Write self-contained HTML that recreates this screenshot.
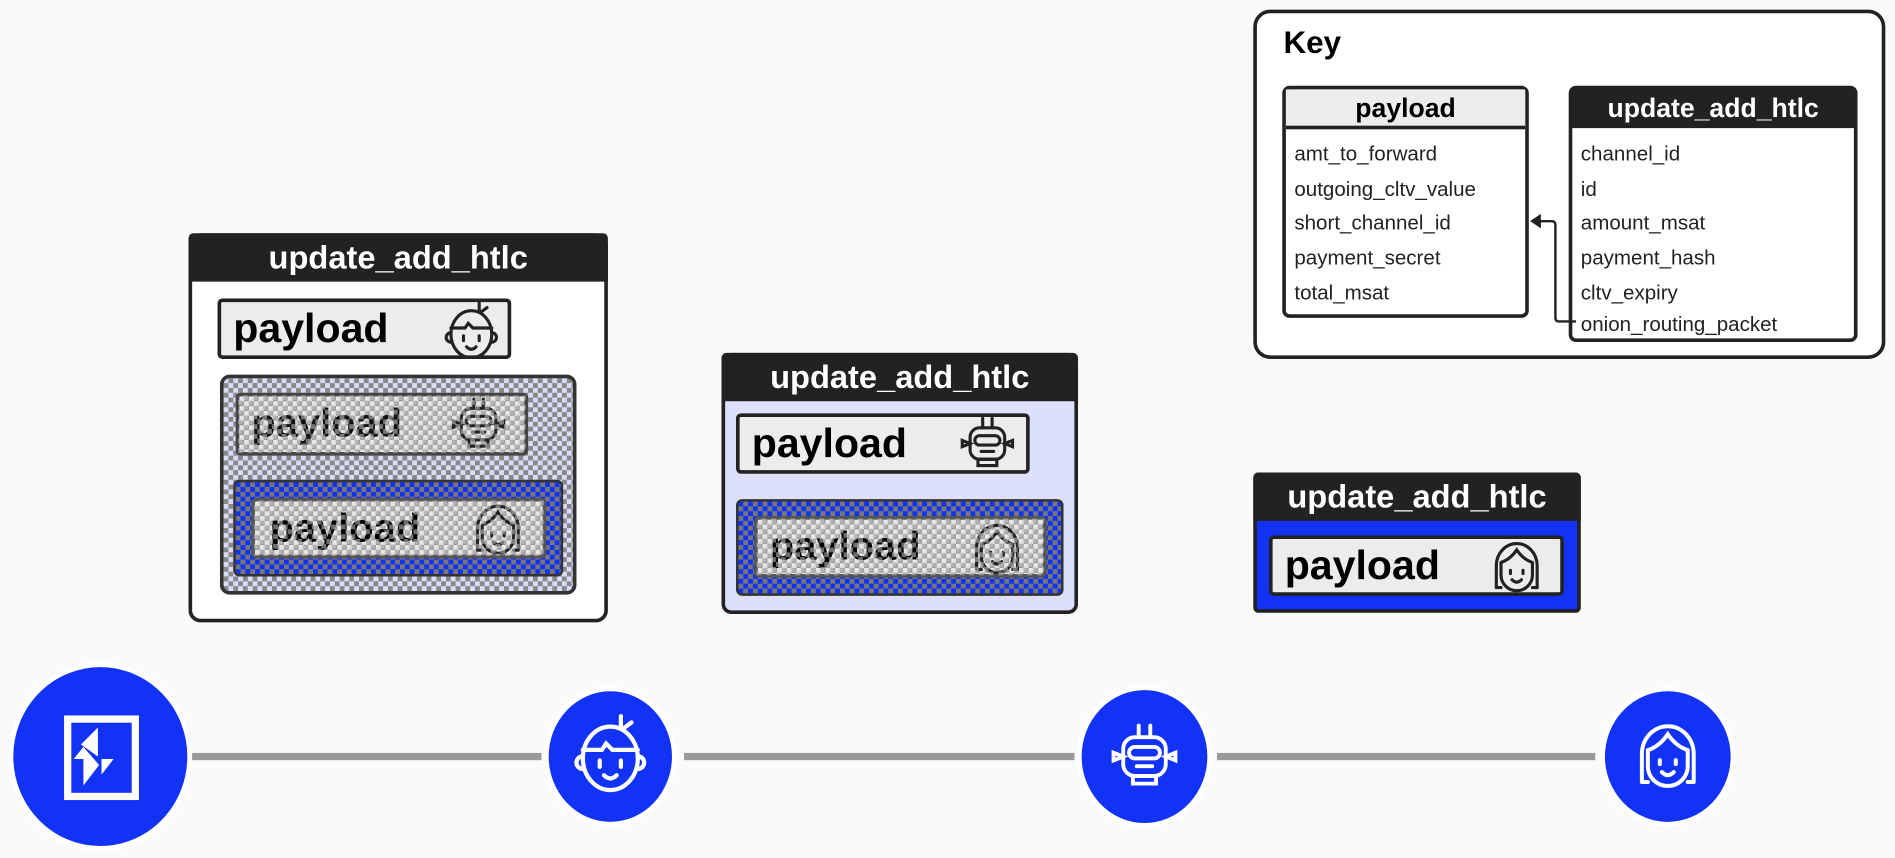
<!DOCTYPE html>
<html><head><meta charset="utf-8"><style>
html,body{margin:0;padding:0;background:#fafafa;overflow:hidden}
#s{position:absolute;left:0;top:0;width:1568px;height:710px;transform:scale(1.20855);transform-origin:0 0;font-family:"Liberation Sans",sans-serif}
.a{position:absolute;box-sizing:border-box}
.hdr{background:#222;color:#fff;font-weight:bold;font-size:27px;text-align:center;line-height:40px;height:40px;border-radius:4px 4px 0 0}
.pl{border:3px solid #222;background:#ececec;border-radius:4px;font-weight:bold;font-size:34px;line-height:44px;padding-left:10px}
.chkl{background-color:#e8e8e8;background-image:repeating-conic-gradient(#999 0 25%,transparent 0 50%);background-size:8px 8px}
.chkv{background-color:#d8dcfa;background-image:repeating-conic-gradient(#888 0 25%,transparent 0 50%);background-size:8px 8px}
.chkb{background-color:#1233f5;background-image:repeating-conic-gradient(#777 0 25%,transparent 0 50%);background-size:8px 8px}
.ov{background-image:repeating-conic-gradient(rgba(200,200,200,.55) 0 25%,transparent 0 50%);background-size:8px 8px}
.f{font-size:17px;color:#222;line-height:28.7px;padding-left:7px}
</style></head><body><div id="s">
<svg width="0" height="0" style="position:absolute"><defs>
<g id="boy" fill="none" stroke-width="2" stroke-linecap="round"><ellipse cx="0" cy="2" rx="13" ry="15"/><path d="M-13 -2 L-4 -2 L-2 -5 L1 -2 L13 -2 M5 -12 L5 -18 M6 -12 L10 -15"/><path d="M-13 1 a3 3 0 0 0 0 6 M13 1 a3 3 0 0 1 0 6"/><path d="M-5 3 v3 M5 3 v3 M-3 10 q3 3 6 0"/></g>
<g id="bot" fill="none" stroke-width="2" stroke-linecap="round"><rect x="-11" y="-10" width="22" height="20" rx="6"/><path d="M-3 -10 v-6 M3 -10 v-6 M-11 0 l-5 -2 l0 4 z M11 0 l5 -2 l0 4z M-6 14 h12 v-4 h-12z"/><rect x="-8" y="-5" width="16" height="6" rx="3"/><path d="M-4 5 h8"/></g>
<g id="girl" fill="none" stroke-width="2" stroke-linecap="round"><path d="M-13 14 V0 a13 14 0 0 1 26 0 V14 M-13 14 h3 M13 14 h-3"/><path d="M-10 -2 q6 -2 10 -8 q4 6 10 8 M-10 -2 v8 a10 10 0 0 0 20 0 v-8"/><path d="M-4 3 v2 M4 3 v2 M-3 9 q3 3 6 0"/></g>
</defs></svg>

<!-- Box 1 -->
<div class="a" style="left:156px;top:193px;width:347px;height:322px;border:3px solid #222;border-radius:10px;background:#fff"></div>
<div class="a hdr" style="left:156px;top:193px;width:347px">update_add_htlc</div>
<div class="a pl" style="left:180px;top:247px;width:243px;height:50px">payload</div>
<svg class="a" style="left:366px;top:249px" width="48" height="48"><use href="#boy" transform="translate(24,25) scale(1.3)" stroke="#222"/></svg>
<div class="a chkv" style="left:182px;top:310px;width:295px;height:182px;border:3px solid #333;border-radius:8px"></div>
<div class="a pl chkl" style="left:195px;top:325px;width:242px;height:52px;border-color:#444;font-size:33px;color:#111">payload</div>
<svg class="a" style="left:372px;top:326px" width="48" height="50"><use href="#bot" transform="translate(24,25) scale(1.3)" stroke="#222"/></svg>
<div class="a ov" style="left:197px;top:327px;width:238px;height:48px"></div>
<div class="a chkb" style="left:193px;top:397px;width:273px;height:80px;border:2px solid #333;border-radius:5px"></div>
<div class="a pl chkl" style="left:208px;top:412px;width:244px;height:50px;border-color:#555;font-size:33px;padding-left:12px">payload</div>
<svg class="a" style="left:388px;top:413px" width="48" height="48"><use href="#girl" transform="translate(24,24) scale(1.3)" stroke="#222"/></svg>
<div class="a ov" style="left:210px;top:414px;width:240px;height:46px"></div>

<!-- Box 2 -->
<div class="a" style="left:597px;top:292px;width:295px;height:216px;border:3px solid #222;border-radius:8px;background:#dde0fb"></div>
<div class="a hdr" style="left:597px;top:292px;width:295px">update_add_htlc</div>
<div class="a pl" style="left:609px;top:342px;width:243px;height:50px">payload</div>
<svg class="a" style="left:793px;top:342px" width="48" height="50"><use href="#bot" transform="translate(24,25) scale(1.3)" stroke="#222"/></svg>
<div class="a chkb" style="left:609px;top:413px;width:271px;height:80px;border:2px solid #333;border-radius:5px"></div>
<div class="a pl chkl" style="left:624px;top:427px;width:242px;height:51px;border-color:#555;font-size:33px">payload</div>
<svg class="a" style="left:801px;top:429px" width="48" height="48"><use href="#girl" transform="translate(24,24) scale(1.3)" stroke="#222"/></svg>
<div class="a ov" style="left:626px;top:429px;width:238px;height:47px"></div>

<!-- Box 3 -->
<div class="a" style="left:1037px;top:391px;width:271px;height:116px;border:3px solid #222;border-radius:4px;background:#1233f5"></div>
<div class="a hdr" style="left:1037px;top:391px;width:271px">update_add_htlc</div>
<div class="a pl" style="left:1050px;top:443px;width:244px;height:50px">payload</div>
<svg class="a" style="left:1231px;top:444px" width="48" height="48"><use href="#girl" transform="translate(24,24) scale(1.3)" stroke="#222"/></svg>

<!-- Key -->
<div class="a" style="left:1037px;top:8px;width:523px;height:289px;border:3px solid #222;border-radius:14px;background:#fff"></div>
<div class="a" style="left:1062px;top:20px;font-weight:bold;font-size:26px">Key</div>
<div class="a" style="left:1061px;top:71px;width:204px;height:192px;border:3px solid #222;border-radius:6px;background:#fff">
<div style="background:#ececec;border-bottom:3px solid #222;height:30px;line-height:31px;text-align:center;font-weight:bold;font-size:22px">payload</div>
<div style="height:7px"></div>
<div class="f">amt_to_forward</div><div class="f">outgoing_cltv_value</div><div class="f">short_channel_id</div><div class="f">payment_secret</div><div class="f">total_msat</div>
</div>
<div class="a" style="left:1298px;top:71px;width:239px;height:212px;border:3px solid #222;border-radius:6px;background:#fff">
<div style="background:#222;color:#fff;height:33px;line-height:34px;text-align:center;font-weight:bold;font-size:22px;margin:-1px -1px 0">update_add_htlc</div>
<div style="height:8px"></div>
<div class="f">channel_id</div><div class="f">id</div><div class="f">amount_msat</div><div class="f">payment_hash</div><div class="f">cltv_expiry</div><div class="f" style="line-height:22px">onion_routing_packet</div>
</div>
<svg class="a" style="left:1260px;top:170px" width="50" height="100"><path d="M44 96 H30 Q27 96 27 93 V16 Q27 13 24 13 H12" fill="none" stroke="#222" stroke-width="2"/><path d="M6 13 L15 7 L15 19 Z" fill="#222"/></svg>

<!-- Bottom line & circles -->
<div class="a" style="left:158px;top:623px;width:1250px;height:6px;background:#999"></div>
<svg class="a" style="left:0;top:540px" width="1568" height="170">
<ellipse cx="83" cy="86" rx="74" ry="76" fill="#1233f5" stroke="#fff" stroke-width="4"/>
<rect x="56" y="55" width="56" height="64" fill="none" stroke="#fff" stroke-width="6"/>
<g fill="#fff"><path d="M81 62 L81 86 L67 76 Z M69 78 L69 110 L82 93 Z M61 88 L69 78 L69 88 Z M84 88 L94 88 L84 101 Z"/></g>
<rect x="448" y="78" width="10" height="20" fill="#fafafa"/><rect x="554" y="78" width="12" height="20" fill="#fafafa"/>
<ellipse cx="505" cy="86" rx="53" ry="56" fill="#1233f5" stroke="#fff" stroke-width="4"/>
<use href="#boy" transform="translate(505,84) scale(1.75)" stroke="#fff"/>
<rect x="889" y="78" width="6" height="20" fill="#fafafa"/><rect x="999" y="78" width="8" height="20" fill="#fafafa"/>
<ellipse cx="947" cy="86" rx="54" ry="57" fill="#1233f5" stroke="#fff" stroke-width="4"/>
<use href="#bot" transform="translate(947,86) scale(1.6)" stroke="#fff"/>
<rect x="1320" y="78" width="12" height="20" fill="#fafafa"/>
<ellipse cx="1380" cy="86" rx="54" ry="56" fill="#1233f5" stroke="#fff" stroke-width="4"/>
<use href="#girl" transform="translate(1380,84) scale(1.65)" stroke="#fff"/>
</svg>
</div></body></html>
